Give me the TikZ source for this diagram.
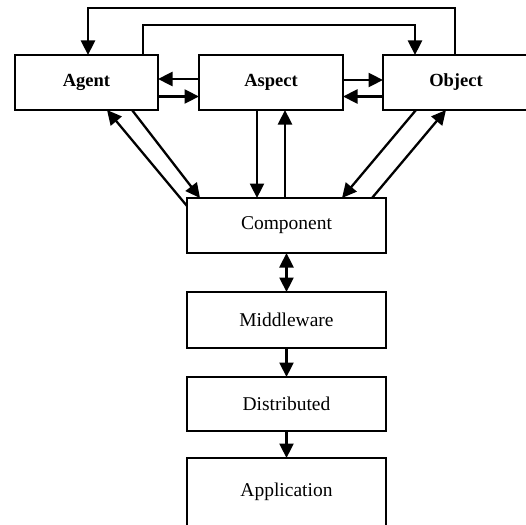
\documentclass[tikz,border=0pt]{standalone}
\usepackage{fontspec}
\setmainfont{Liberation Serif}
\usetikzlibrary{arrows.meta,calc}
\begin{document}
\begin{tikzpicture}[x=1pt,y=-1pt,
  box/.style={draw,line width=2.6pt,inner sep=0pt,outer sep=0pt,align=center,font=\fontsize{19.5}{22}\selectfont},
  topbox/.style={box,font=\fontsize{18.5}{22}\selectfont\bfseries},
  tip/.style={},
  arr/.style={line width=2.3pt,-{Triangle[length=14.5pt,width=14pt]}},
  darr/.style={line width=2.3pt,{Triangle[length=14.5pt,width=14pt]}-{Triangle[length=14.5pt,width=14pt]}}]
\clip (0,0) rectangle (526,524);
\node[topbox,minimum width=143pt,minimum height=55pt] (agent) at (86.5,82.5) {Agent};
\node[topbox,minimum width=144pt,minimum height=55pt] (aspect) at (271,82.5) {Aspect};
\node[topbox,minimum width=146pt,minimum height=55pt] (object) at (456,82.5) {Object};
\node[box,minimum width=199pt,minimum height=55pt] (component) at (286.5,225.5) {Component};
\node[box,minimum width=199pt,minimum height=56pt] (middleware) at (286.5,320) {Middleware};
\node[box,minimum width=199pt,minimum height=54pt] (distributed) at (286.5,404) {Distributed};
\node[box,minimum width=199pt,minimum height=68pt] (application) at (286.5,492) {Application};
\coordinate (t1) at (0,8);
\coordinate (t2) at (0,25);
% top loops
\draw[arr] ([xshift=-1pt]object.north) -- ([xshift=-1pt]object.north |- t1) -- ([xshift=1.5pt]agent.north |- t1) -- ([xshift=1.5pt]agent.north);
\draw[arr] ([xshift=-15pt]agent.north east) -- ([xshift=-15pt]agent.north east |- t2) -- ([xshift=32pt]object.north west |- t2) -- ([xshift=32pt]object.north west);
% horizontal
\draw[arr] ([yshift=3.5pt]aspect.west) -- ([yshift=3.5pt]agent.east);
\draw[arr] ([yshift=-14pt]agent.east) -- ([yshift=-14pt]aspect.west);
\draw[arr] ([yshift=2.5pt]aspect.east) -- ([yshift=2.5pt]object.west);
\draw[arr] ([yshift=-14pt]object.west) -- ([yshift=-14pt]aspect.east);
% diagonals left
\draw[arr] ([yshift=-8pt]component.north west) -- ([xshift=20.5pt]agent.south);
\draw[arr] ([xshift=45.5pt]agent.south) -- ([xshift=13pt]component.north west);
% verticals middle
\draw[arr] ([xshift=-14pt]aspect.south) -- ([xshift=-14pt]aspect.south |- component.north);
\draw[arr] ([xshift=14pt]aspect.south |- component.north) -- ([xshift=14pt]aspect.south);
% diagonals right
\draw[arr] ([xshift=-40pt]object.south) -- ([xshift=-44pt]component.north east);
\draw[arr] ([xshift=-14pt]component.north east) -- ([xshift=-10pt]object.south);
% lower chain
\draw[darr] (component.south) -- (middleware.north);
\draw[arr] (middleware.south) -- (distributed.north);
\draw[arr] (distributed.south) -- (application.north);
\end{tikzpicture}
\end{document}
